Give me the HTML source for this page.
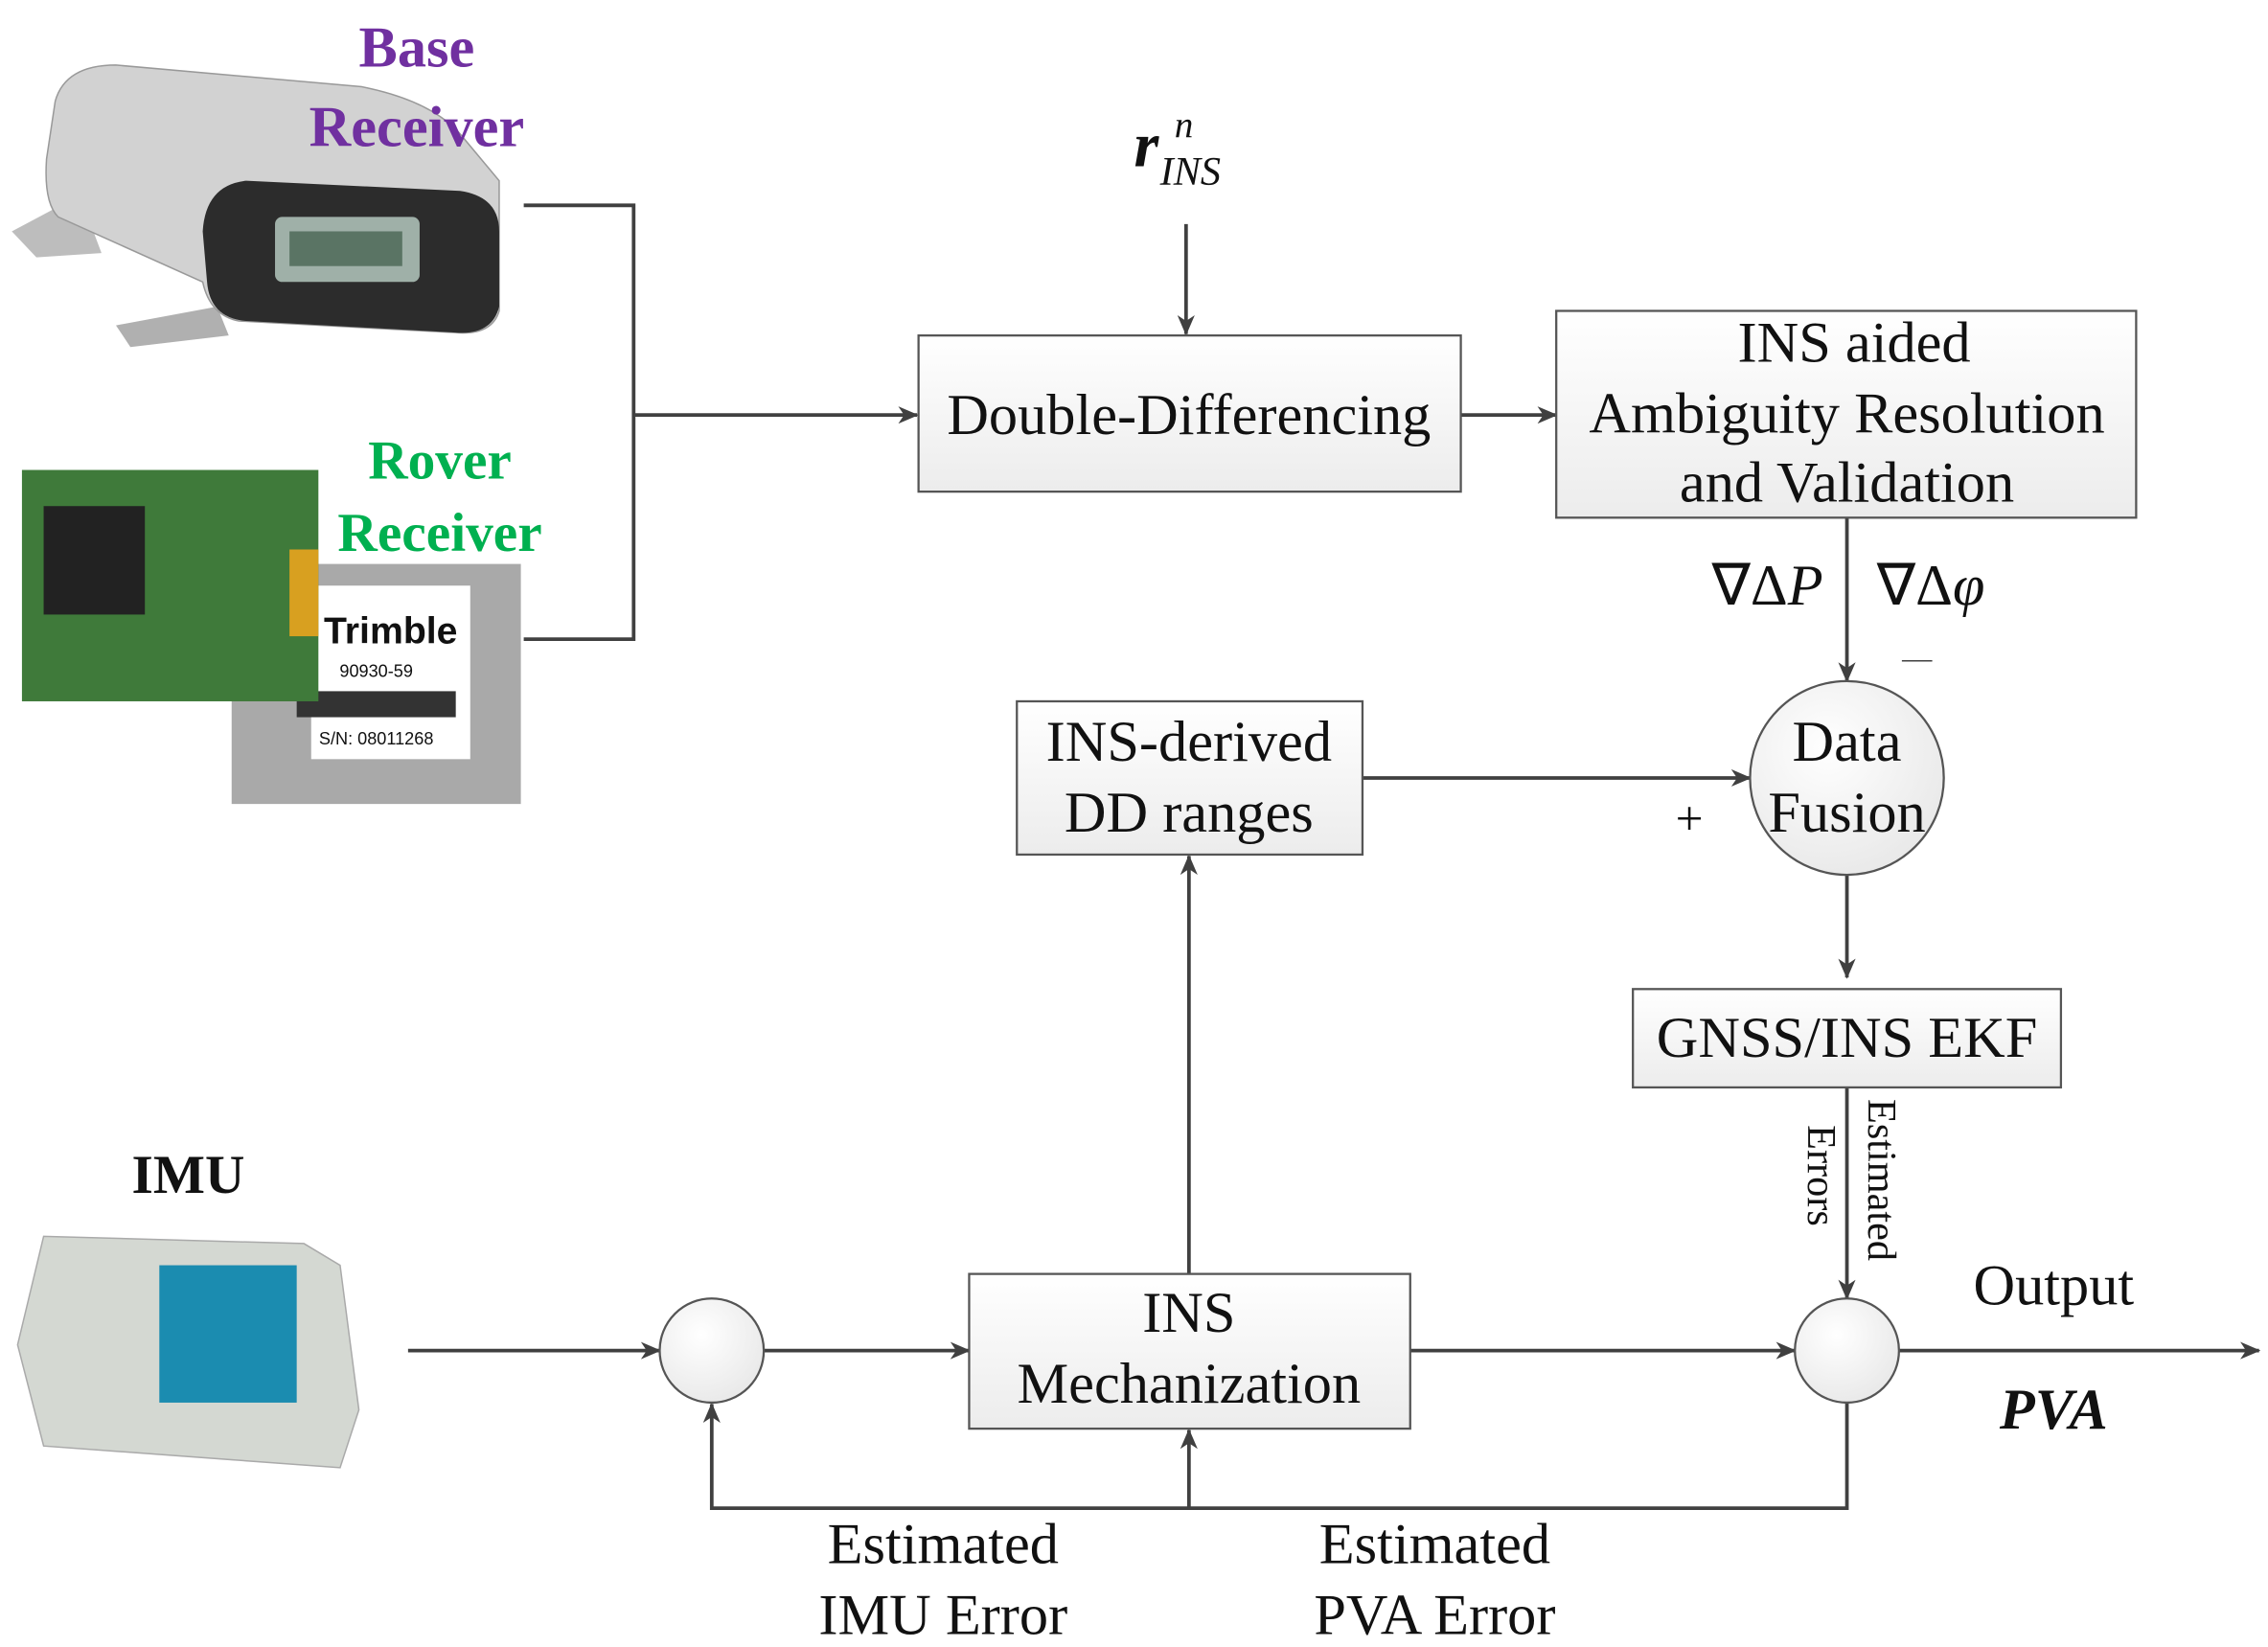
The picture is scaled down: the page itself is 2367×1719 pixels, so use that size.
<!DOCTYPE html>
<html><head><meta charset="utf-8"><style>
html,body{margin:0;padding:0;background:#fff;}
svg{display:block;}
text{font-family:"Liberation Serif",serif;fill:#111;}
</style></head><body>
<svg width="2367" height="1719" viewBox="0 0 1568 1139" xmlns="http://www.w3.org/2000/svg">
<defs>
<marker id="a" markerWidth="14" markerHeight="12" refX="13" refY="6" orient="auto" markerUnits="userSpaceOnUse" viewBox="0 0 14 12">
<path d="M0,0 L14,6 L0,12 L4,6 z" fill="#404040"/></marker>
<linearGradient id="g" x1="0" y1="0" x2="0" y2="1"><stop offset="0" stop-color="#fff"/><stop offset="1" stop-color="#ececec"/></linearGradient>
<radialGradient id="c" cx="0.4" cy="0.35" r="0.7"><stop offset="0" stop-color="#fff"/><stop offset="1" stop-color="#e8e8e8"/></radialGradient>
</defs>
<!-- Base receiver -->
<polygon points="8,160 55,135 70,175 25,178" fill="#bdbdbd"/>
<polygon points="80,225 150,212 158,232 90,240" fill="#b0b0b0"/>
<path d="M38,70 Q45,45 80,45 L250,60 Q300,70 320,95 L345,125 L345,215 Q340,232 315,230 L165,222 Q145,218 140,195 L40,150 Q30,140 32,110 z" fill="#d2d2d2" stroke="#999"/>
<path d="M140,160 Q142,128 170,125 L318,132 Q345,136 345,160 L345,212 Q340,232 315,230 L170,222 Q145,220 143,195 z" fill="#2c2c2c"/>
<rect x="190" y="150" width="100" height="45" rx="5" fill="#9fb0a8"/>
<rect x="200" y="160" width="78" height="24" fill="#5a7464"/>
<!-- Base/rover text -->
<text x="288" y="46" font-size="40" font-weight="bold" text-anchor="middle" style="fill:#7030A0">Base</text>
<text x="288" y="101" font-size="40" font-weight="bold" text-anchor="middle" style="fill:#7030A0">Receiver</text>
<text x="304" y="331" font-size="38" font-weight="bold" text-anchor="middle" style="fill:#00B050">Rover</text>
<text x="304" y="381" font-size="38" font-weight="bold" text-anchor="middle" style="fill:#00B050">Receiver</text>
<!-- Rover board -->
<rect x="160" y="390" width="200" height="166" fill="#a9a9a9"/>
<rect x="215" y="405" width="110" height="120" fill="#fff"/>
<text x="270" y="445" font-size="26" font-weight="bold" text-anchor="middle" style="font-family:'Liberation Sans',sans-serif">Trimble</text>
<text x="260" y="468" font-size="12" text-anchor="middle" style="font-family:'Liberation Sans',sans-serif">90930-59</text>
<rect x="205" y="478" width="110" height="18" fill="#333"/>
<text x="260" y="515" font-size="12" text-anchor="middle" style="font-family:'Liberation Sans',sans-serif">S/N: 08011268</text>
<rect x="15" y="325" width="205" height="160" fill="#3f7a3a"/>
<rect x="30" y="350" width="70" height="75" fill="#222"/>
<rect x="200" y="380" width="20" height="60" fill="#d8a020"/>
<!-- IMU -->
<text x="130" y="825" font-size="38" font-weight="bold" text-anchor="middle">IMU</text>
<polygon points="12,930 30,855 210,860 235,875 248,975 235,1015 30,1000" fill="#d4d8d2" stroke="#aaa"/>
<rect x="110" y="875" width="95" height="95" fill="#1b8cb0"/>
<!-- connectors -->
<g stroke="#404040" stroke-width="2.5" fill="none">
<polyline points="362,142 438,142 438,442 362,442"/>
<line x1="438" y1="287" x2="634" y2="287" marker-end="url(#a)"/>
<line x1="820" y1="155" x2="820" y2="231" marker-end="url(#a)"/>
<line x1="1010" y1="287" x2="1076" y2="287" marker-end="url(#a)"/>
<line x1="1277" y1="358" x2="1277" y2="471" marker-end="url(#a)"/>
<line x1="942" y1="538" x2="1210" y2="538" marker-end="url(#a)"/>
<line x1="1277" y1="605" x2="1277" y2="676" marker-end="url(#a)"/>
<line x1="1277" y1="752" x2="1277" y2="898" marker-end="url(#a)"/>
<line x1="282" y1="934" x2="456" y2="934" marker-end="url(#a)"/>
<line x1="528" y1="934" x2="670" y2="934" marker-end="url(#a)"/>
<line x1="975" y1="934" x2="1241" y2="934" marker-end="url(#a)"/>
<line x1="1313" y1="934" x2="1562" y2="934" marker-end="url(#a)"/>
<polyline points="1277,970 1277,1043 492,1043 492,971" marker-end="url(#a)"/>
<line x1="822" y1="1043" x2="822" y2="989" marker-end="url(#a)"/>
<line x1="822" y1="881" x2="822" y2="592" marker-end="url(#a)"/>
<line x1="1315" y1="457" x2="1336" y2="457" stroke-width="1"/>
</g>
<!-- boxes -->
<g stroke="#555" stroke-width="1.5" fill="url(#g)">
<rect x="635" y="232" width="375" height="108"/>
<rect x="1076" y="215" width="401" height="143"/>
<rect x="703" y="485" width="239" height="106"/>
<rect x="1129" y="684" width="296" height="68"/>
<rect x="670" y="881" width="305" height="107"/>
<circle cx="1277" cy="538" r="67" fill="url(#c)"/>
<circle cx="1277" cy="934" r="36" fill="url(#c)"/>
<circle cx="492" cy="934" r="36" fill="url(#c)"/>
</g>
<g font-size="40" text-anchor="middle">
<text x="822" y="300">Double-Differencing</text>
<text x="1282" y="250">INS aided</text>
<text x="1277" y="299">Ambiguity Resolution</text>
<text x="1277" y="347">and Validation</text>
<text x="1277" y="526">Data</text>
<text x="1277" y="575">Fusion</text>
<text x="822" y="526">INS-derived</text>
<text x="822" y="575">DD ranges</text>
<text x="1277" y="731">GNSS/INS EKF</text>
<text x="822" y="921">INS</text>
<text x="822" y="970">Mechanization</text>
<text x="1420" y="902">Output</text>
<text x="1420" y="988" font-weight="bold" font-style="italic">PVA</text>
<text x="652" y="1081">Estimated</text>
<text x="652" y="1130">IMU Error</text>
<text x="992" y="1081">Estimated</text>
<text x="992" y="1130">PVA Error</text>
<text x="1168" y="577" font-size="34">+</text>
<text x="1222" y="418">∇Δ<tspan font-style="italic">P</tspan></text>
<text x="1335" y="418">∇Δ<tspan font-style="italic">φ</tspan></text>
</g>
<text x="784" y="115" font-size="44" font-weight="bold" font-style="italic">r</text>
<text x="812" y="95" font-size="26" font-style="italic">n</text>
<text x="802" y="128" font-size="28" font-style="italic">INS</text>
<text transform="translate(1292,760) rotate(90)" font-size="28">Estimated</text>
<text transform="translate(1250,778) rotate(90)" font-size="28">Errors</text>
</svg>
</body></html>
